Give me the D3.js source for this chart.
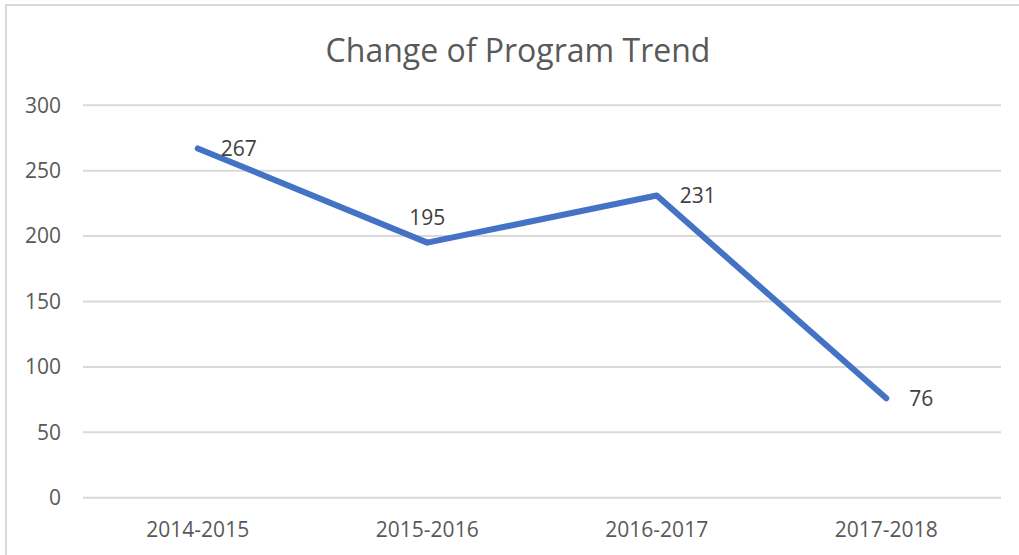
<!DOCTYPE html>
<html>
<head>
<meta charset="utf-8">
<script src="https://cdn.jsdelivr.net/npm/d3@7"></script>
<style>
  html, body { margin: 0; padding: 0; background: #fff; }
  svg { display: block; }
  text { font-family: "Open Sans", sans-serif; fill: #595959; }
</style>
</head>
<body>
<svg id="chart" width="1019" height="555"></svg>
<script>
// data
var categories = ["2014-2015", "2015-2016", "2016-2017", "2017-2018"];
var values = [267, 195, 231, 76];
var yTicks = [0, 50, 100, 150, 200, 250, 300];
var labelPos = ["right", "above", "right", "right"];
var title = "Change of Program Trend";

var W = 1019, H = 555;
var plot = { left: 83, right: 1001, top: 105.3, bottom: 497.7 };

var svg = d3.select("#chart");

// outer border of the chart area
svg.append("rect")
    .attr("x", 6).attr("y", 5)
    .attr("width", 1200).attr("height", 1000)
    .attr("fill", "none")
    .attr("stroke", "#d9d9d9")
    .attr("stroke-width", 2);

var x = d3.scaleBand()
    .domain(categories)
    .range([plot.left, plot.right]);

var y = d3.scaleLinear()
    .domain([0, 300])
    .range([plot.bottom, plot.top]);

// gridlines
svg.append("g")
    .selectAll("line")
    .data(yTicks)
    .join("line")
    .attr("x1", plot.left).attr("x2", plot.right)
    .attr("y1", d => y(d)).attr("y2", d => y(d))
    .attr("stroke", "#d9d9d9")
    .attr("stroke-width", 2);

// y tick labels
svg.append("g")
    .selectAll("text")
    .data(yTicks)
    .join("text")
    .attr("x", 61)
    .attr("y", d => y(d))
    .attr("dy", "0.35em")
    .attr("text-anchor", "end")
    .style("font-size", "21px")
    .text(d => d);

// x category labels
svg.append("g")
    .selectAll("text")
    .data(categories)
    .join("text")
    .attr("x", d => x(d) + x.bandwidth() / 2)
    .attr("y", 537)
    .attr("text-anchor", "middle")
    .style("font-size", "21px")
    .text(d => d);

// title
svg.append("text")
    .attr("x", 518)
    .attr("y", 62)
    .attr("text-anchor", "middle")
    .style("font-size", "32px")
    .text(title);

// line
var pts = categories.map((c, i) => [x(c) + x.bandwidth() / 2, y(values[i])]);

svg.append("path")
    .attr("d", d3.line()(pts))
    .attr("fill", "none")
    .attr("stroke", "#4472c4")
    .attr("stroke-width", 6)
    .attr("stroke-linecap", "round")
    .attr("stroke-linejoin", "round");

// data labels
svg.append("g")
    .selectAll("text")
    .data(values)
    .join("text")
    .attr("x", (d, i) => labelPos[i] == "right" ? pts[i][0] + 23 : pts[i][0])
    .attr("y", (d, i) => labelPos[i] == "right" ? pts[i][1] : pts[i][1] - 25)
    .attr("dy", "0.35em")
    .attr("text-anchor", (d, i) => labelPos[i] == "right" ? "start" : "middle")
    .style("font-size", "21px")
    .style("fill", "#404040")
    .text(d => d);
</script>
</body>
</html>
